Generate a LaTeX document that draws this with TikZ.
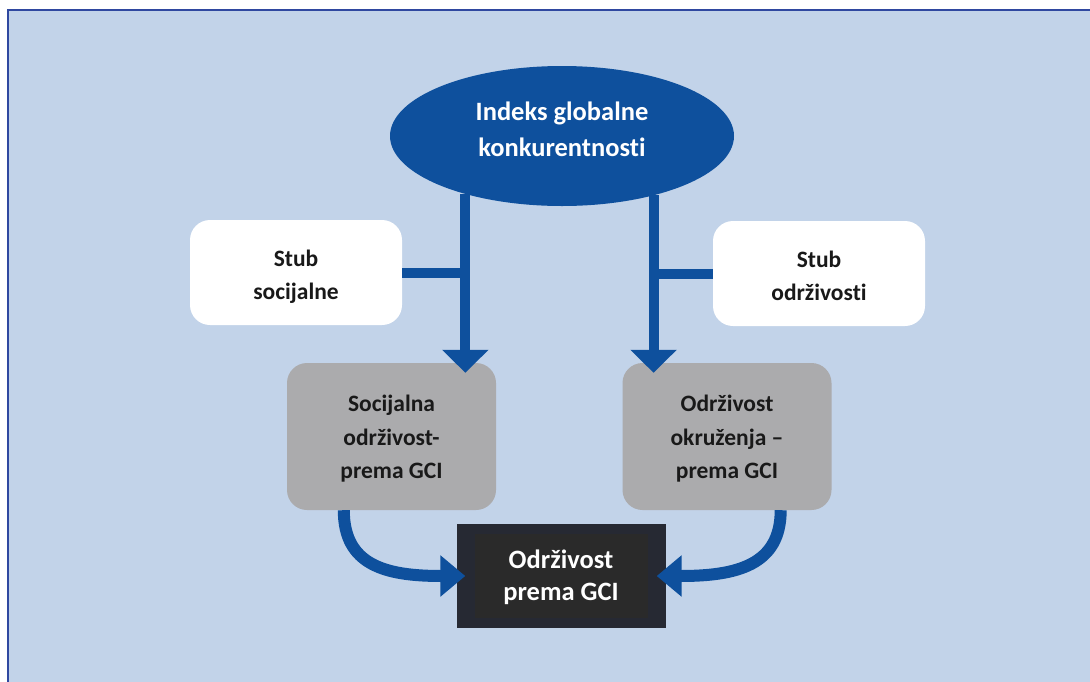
\documentclass[tikz,border=0pt]{standalone}
\usepackage{fontspec}
\setmainfont{Carlito}[Ligatures={NoCommon}]
\usetikzlibrary{arrows.meta}
\usetikzlibrary{calc}
\usetikzlibrary{shapes.geometric}
\definecolor{framefill}{RGB}{194,211,233}
\definecolor{frameline}{RGB}{47,72,160}
\definecolor{gciblue}{RGB}{14,80,157}
\definecolor{pillargray}{RGB}{171,171,173}
\definecolor{darkouter}{RGB}{38,41,51}
\definecolor{darkinner}{RGB}{42,42,42}
\begin{document}
\begin{tikzpicture} [x=1pt, y=-1pt,
  txt/.style={font=\bfseries\fontsize{23.5}{33.3}\selectfont, align=center, text=black!90},
  bigtxt/.style={font=\bfseries\fontsize{26.5}{36}\selectfont, align=center, text=white},
  stubbox/.style={txt, fill=white, rounded corners=20pt, minimum width=212pt, minimum height=105pt, text height=62pt, text depth=8pt},
  graybox/.style={txt, fill=pillargray, rounded corners=20pt, minimum width=209pt, minimum height=147pt, text height=91.6pt, text depth=8pt},
  stem/.style={gciblue, line width=10pt},
  flow/.style={stem, -{Triangle[width=45pt,length=23pt]}},
  curvedflow/.style={gciblue, line width=12pt, -{Triangle[width=40pt,length=25pt]}}]
\useasboundingbox (0,0) rectangle (1090,681);
\begin{scope}
\clip (0,0) rectangle (1090,681);
\draw[frameline, fill=framefill, line width=2.5pt] (8,10) rectangle (1100,700);
\end{scope}
\node[ellipse, fill=gciblue, minimum width=344pt, minimum height=140pt, inner sep=0pt, bigtxt, text height=49.4pt, text depth=8pt] (gci) at (562,136) {Indeks globalne\\konkurentnosti};
\node[stubbox] (socstub) at (296,272.5) {Stub\\socijalne};
\node[stubbox] (envstub) at (819,273.5) {Stub\\održivosti};
\node[graybox] (socgci) at (391.5,436.5) {Socijalna\\održivost-\\prema GCI};
\node[graybox] (envgci) at (727,436.5) {Održivost\\okruženja –\\prema GCI};
\node[fill=darkouter, minimum width=209pt, minimum height=104pt] (total) at (561,576) {};
\node[fill=darkinner, minimum width=173pt, minimum height=84pt, bigtxt, font=\bfseries\fontsize{26.5}{32}\selectfont, text height=57.4pt, text depth=8pt] (totaltxt) at (total.center) {Održivost\\prema GCI};
\draw[stem] (socstub.east) -- (socstub.east -| gci.211);
\draw[stem] (envstub.west) -- (envstub.west -| gci.327);
\draw[flow] (gci.211) -- ($(gci.211 |- socgci.north)+(0,10)$);
\draw[flow] (gci.327) -- ($(gci.327 |- envgci.north)+(0,10)$);
\draw[curvedflow] ($(socgci.south west)+(57,0)$) .. controls +(0,55) and +(-80,0) .. ($(total.west)+(9,0)$);
\draw[curvedflow] ($(envgci.south east)+(-51,0)$) .. controls +(0,55) and +(80,0) .. ($(total.east)+(-9,0)$);
\end{tikzpicture}
\end{document}
